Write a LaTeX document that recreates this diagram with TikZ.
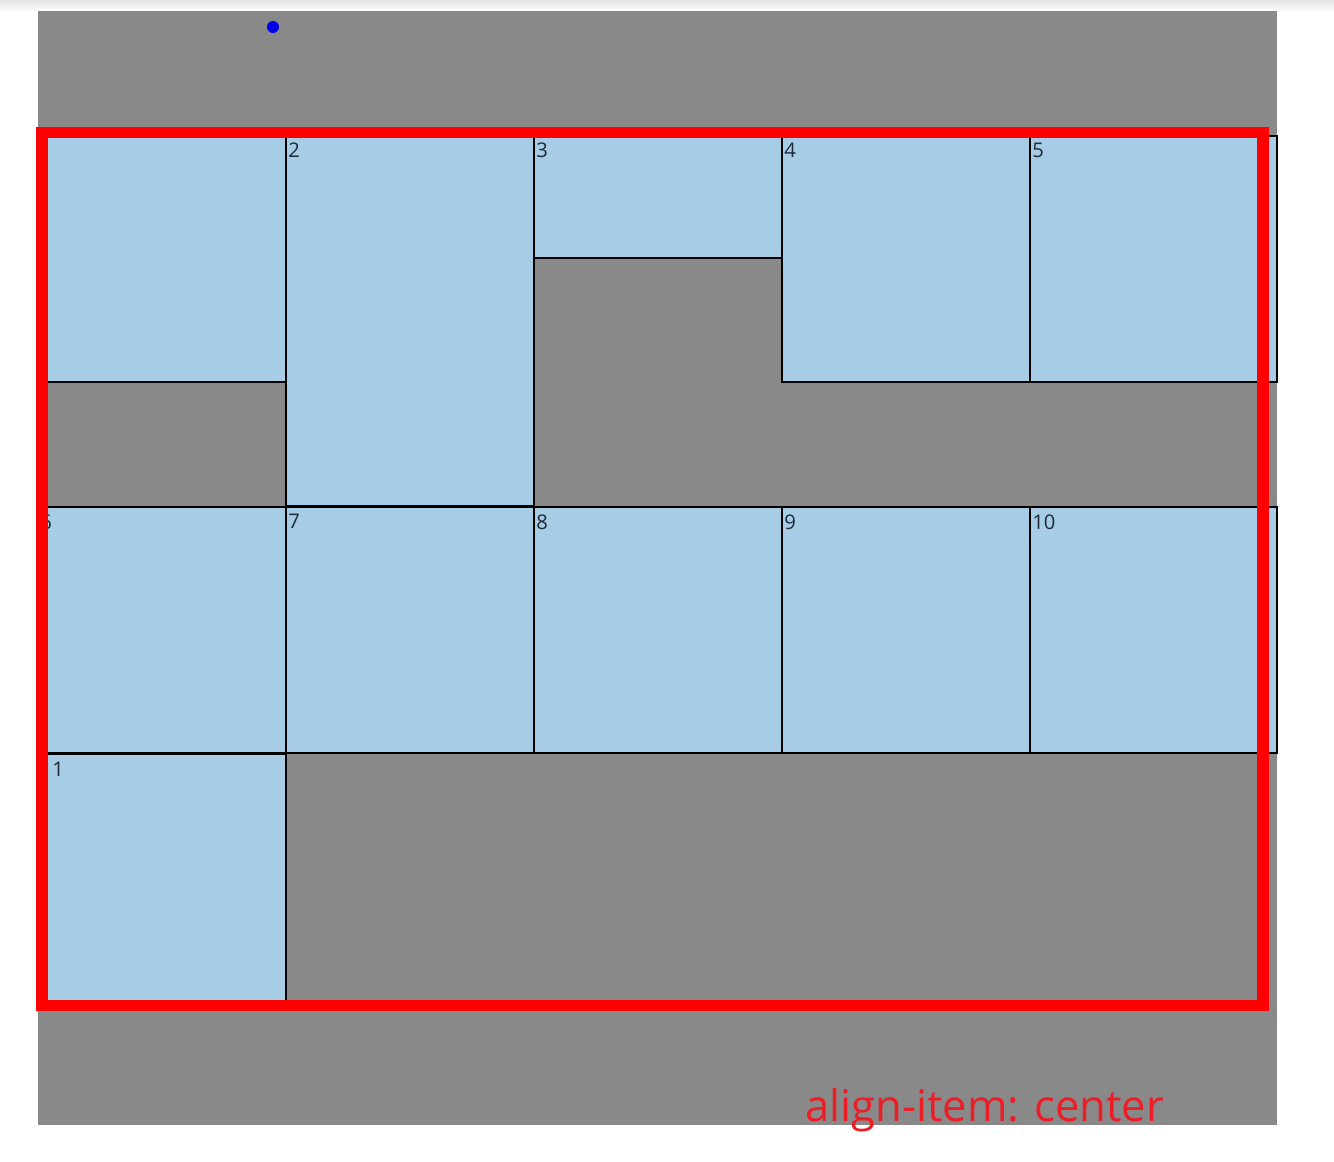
\documentclass[tikz,border=0pt]{standalone}
\usepackage{fontspec}
\setmainfont{Open Sans}
\definecolor{panelgray}{HTML}{898989}
\definecolor{cellblue}{HTML}{A6CCE6}
\definecolor{framered}{HTML}{FF0000}
\definecolor{notered}{HTML}{EE1C25}
\definecolor{labelink}{HTML}{1F2A36}
\definecolor{dotblue}{HTML}{0000E6}
\tikzset{
  cellbox/.style={draw=black, line width=0.8pt, fill=cellblue, anchor=north west,
    inner sep=0pt, outer sep=0pt, minimum width=248*0.02cm},
  numlabel/.style={anchor=north west, inner sep=0pt, font=\fontsize{11.5}{13}\selectfont, text=labelink},
}
\begin{document}
\begin{tikzpicture}[x=0.02cm, y=-0.02cm]
  \useasboundingbox (0,0) rectangle (1334,1161);
  \fill[white] (0,0) rectangle (1334,1161);
  \shade[top color=black!10, bottom color=white] (0,0) rectangle (1334,12);
  \fill[panelgray] (38,11) rectangle (1277,1125);
  \fill[dotblue] (273,27) circle (6);
  % first row
  \node[cellbox, minimum height=246*0.02cm] (c1) at (38,136) {};
  \node[cellbox, minimum height=370*0.02cm] (c2) at (286,136) {};
  \node[cellbox, minimum height=122*0.02cm] (c3) at (534,136) {};
  \node[cellbox, minimum height=246*0.02cm] (c4) at (782,136) {};
  \node[cellbox, minimum height=246*0.02cm, minimum width=247*0.02cm] (c5) at (1030,136) {};
  % second row
  \node[cellbox, minimum height=246*0.02cm] (c6) at (38,507) {};
  \node[cellbox, minimum height=246*0.02cm] (c7) at (286,507) {};
  \node[cellbox, minimum height=246*0.02cm] (c8) at (534,507) {};
  \node[cellbox, minimum height=246*0.02cm] (c9) at (782,507) {};
  \node[cellbox, minimum height=246*0.02cm, minimum width=247*0.02cm] (c10) at (1030,507) {};
  % third row
  \node[cellbox, minimum height=247.5*0.02cm] (c11) at (38,754) {};
  % numbers
  \node[numlabel] (n2) at ([shift={(2,7)}]c2.north west) {2};
  \node[numlabel] (n3) at ([shift={(2,7)}]c3.north west) {3};
  \node[numlabel] (n4) at ([shift={(2,7)}]c4.north west) {4};
  \node[numlabel] (n5) at ([shift={(2,7)}]c5.north west) {5};
  \node[numlabel] (n6) at ([shift={(2,7)}]c6.north west) {6};
  \node[numlabel] (n7) at ([shift={(2,7)}]c7.north west) {7};
  \node[numlabel] (n8) at ([shift={(2,7)}]c8.north west) {8};
  \node[numlabel] (n9) at ([shift={(2,7)}]c9.north west) {9};
  \node[numlabel] (n10) at ([shift={(2,7)}]c10.north west) {10};
  \node[numlabel] (n11) at ([shift={(14,8)}]c11.north west) {1};
  % container outline
  \draw[framered, line width=11.5*0.02cm] (42,132.5) rectangle (1263,1005.5);
  \node[anchor=base west, inner sep=0pt, text=notered, font=\fontsize{24.8}{30}\selectfont]
    (caption) at (805,1121) {align-item: center};
\end{tikzpicture}
\end{document}
